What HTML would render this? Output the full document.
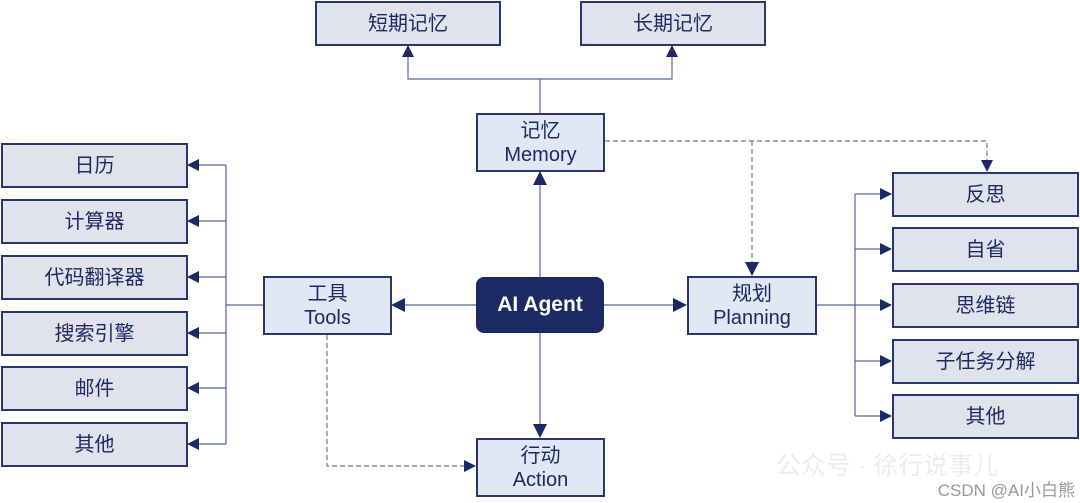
<!DOCTYPE html>
<html><head><meta charset="utf-8"><style>
body{margin:0;width:1080px;height:503px;background:#fff;position:relative;overflow:hidden;font-family:"Liberation Sans","Noto Sans CJK SC",sans-serif;}
.b{position:absolute;box-sizing:border-box;border:2px solid #2a3670;display:flex;align-items:center;justify-content:center;text-align:center;color:#1b2a63;font-size:20px;line-height:24px;}
.g{background:#e1e3ec;}
.l{background:#dfe8f3;}
svg{position:absolute;left:0;top:0;}
</style></head><body>
<svg width="1080" height="503">
<defs><marker id="a" markerWidth="12" markerHeight="12" refX="11" refY="6" orient="auto" markerUnits="userSpaceOnUse"><path d="M0,0L12,6L0,12z" fill="#1b2a63"/></marker>
<marker id="a2" markerWidth="14" markerHeight="14" refX="13" refY="7" orient="auto" markerUnits="userSpaceOnUse"><path d="M0,0L14,7L0,14z" fill="#1b2a63"/></marker></defs>
<g stroke="#5a6696" stroke-width="1.2" fill="none">
<path d="M540,113V79H408V46" marker-end="url(#a)"/>
<path d="M540,79H672V46" marker-end="url(#a)"/>
<path d="M540,277V172" marker-end="url(#a2)"/>
<path d="M540,333V437" marker-end="url(#a2)"/>
<path d="M476,305H392" marker-end="url(#a2)"/>
<path d="M604,305H686" marker-end="url(#a2)"/>
<path d="M263,305H226"/>
<path d="M226,165V444"/>
<path d="M226,165H188" marker-end="url(#a)"/>
<path d="M226,221H188" marker-end="url(#a)"/>
<path d="M226,277H188" marker-end="url(#a)"/>
<path d="M226,333H188" marker-end="url(#a)"/>
<path d="M226,388H188" marker-end="url(#a)"/>
<path d="M226,444H188" marker-end="url(#a)"/>
<path d="M817,305H855"/>
<path d="M855,194V416"/>
<path d="M855,194H891" marker-end="url(#a)"/>
<path d="M855,249H891" marker-end="url(#a)"/>
<path d="M855,305H891" marker-end="url(#a)"/>
<path d="M855,361H891" marker-end="url(#a)"/>
<path d="M855,416H891" marker-end="url(#a)"/>
</g>
<g stroke="#6d78a3" stroke-width="1.2" fill="none" stroke-dasharray="5,3">
<path d="M605,141H987V171" marker-end="url(#a)"/>
<path d="M752,141V275" marker-end="url(#a2)"/>
<path d="M327,335V466H475" marker-end="url(#a)"/>
</g>
</svg>
<div class="b g" style="left:315px;top:1px;width:186px;height:45px">短期记忆</div>
<div class="b g" style="left:580px;top:1px;width:186px;height:45px">长期记忆</div>
<div class="b l" style="left:476px;top:113px;width:129px;height:59px">记忆<br>Memory</div>
<div class="b l" style="left:263px;top:276px;width:129px;height:59px">工具<br>Tools</div>
<div class="b l" style="left:687px;top:276px;width:130px;height:59px">规划<br>Planning</div>
<div class="b l" style="left:476px;top:438px;width:129px;height:59px">行动<br>Action</div>
<div class="b" style="left:476px;top:277px;width:128px;height:56px;background:#1b2a63;border-color:#1b2a63;border-radius:8px;color:#fff;font-weight:bold;font-size:21px">AI Agent</div>
<div class="b g" style="left:1px;top:143px;width:187px;height:45px">日历</div>
<div class="b g" style="left:1px;top:199px;width:187px;height:45px">计算器</div>
<div class="b g" style="left:1px;top:255px;width:187px;height:45px">代码翻译器</div>
<div class="b g" style="left:1px;top:311px;width:187px;height:45px">搜索引擎</div>
<div class="b g" style="left:1px;top:366px;width:187px;height:45px">邮件</div>
<div class="b g" style="left:1px;top:422px;width:187px;height:45px">其他</div>
<div class="b g" style="left:892px;top:172px;width:187px;height:45px">反思</div>
<div class="b g" style="left:892px;top:227px;width:187px;height:45px">自省</div>
<div class="b g" style="left:892px;top:283px;width:187px;height:45px">思维链</div>
<div class="b g" style="left:892px;top:339px;width:187px;height:45px">子任务分解</div>
<div class="b g" style="left:892px;top:394px;width:187px;height:45px">其他</div>
<div style="position:absolute;left:776px;top:446px;font-size:25px;color:#ececec;white-space:nowrap">公众号 · 徐行说事儿</div>
<div style="position:absolute;right:5px;top:476px;font-size:17px;color:#999;white-space:nowrap">CSDN @AI小白熊</div>
</body></html>
